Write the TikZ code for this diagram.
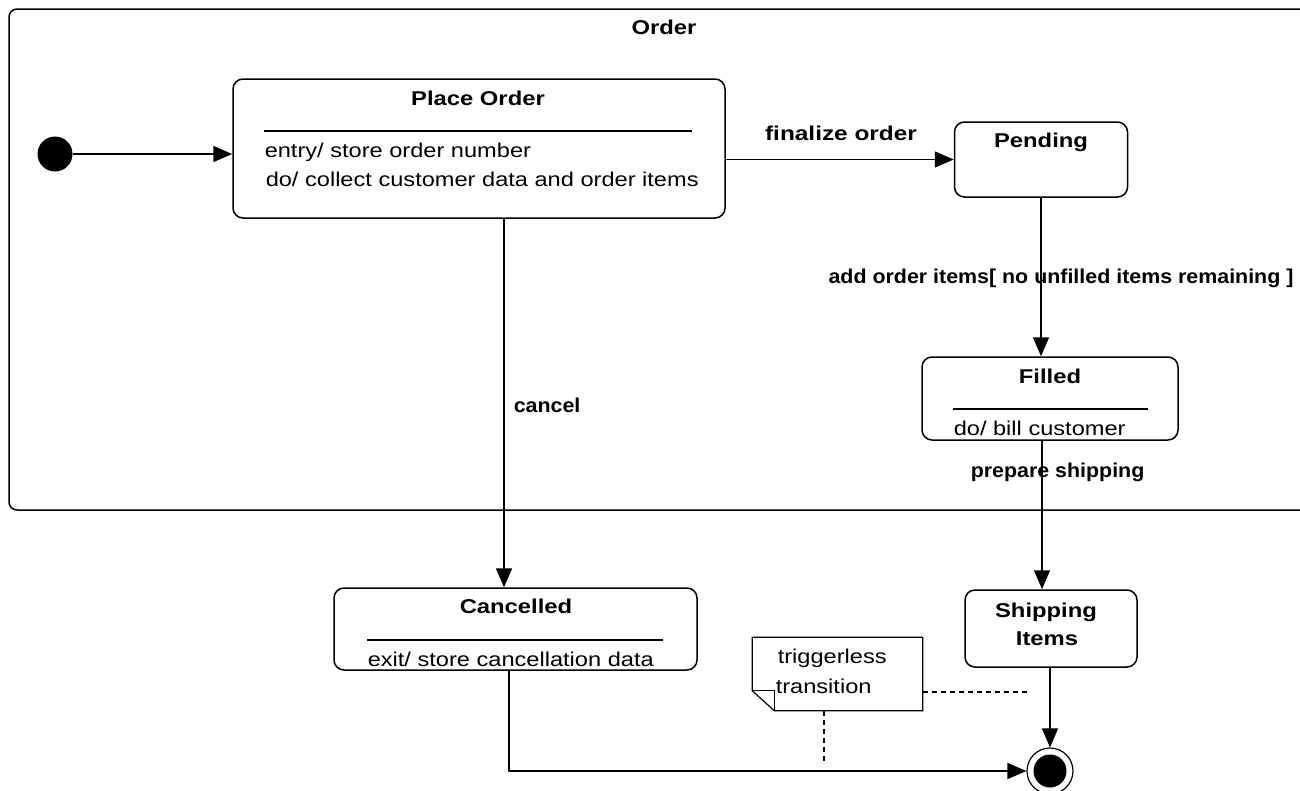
\documentclass[tikz,border=0pt]{standalone}
\usepackage{fontspec}
\setmainfont{Liberation Sans}
\newfontfamily\regfont[FakeStretch=1.18]{Liberation Sans}
\newfontfamily\namefont[FakeStretch=1.19]{Liberation Sans}
\newfontfamily\trfont[FakeStretch=1.07]{Liberation Sans}
\usetikzlibrary{arrows.meta}
\begin{document}
\begin{tikzpicture}[x=1pt,y=-1pt,line width=1.5pt,
  statebox/.style={draw,rounded corners=10pt,inner sep=0pt},
  arr/.style={-{Triangle[length=19pt,width=16pt]}},
  notelink/.style={dashed,dash pattern=on 5pt off 4pt,line width=1.2pt},
  txt/.style={inner sep=0pt,font=\regfont\fontsize{20}{24}\selectfont},
  sname/.style={inner sep=0pt,font=\namefont\bfseries\fontsize{20}{24}\selectfont},
  trlabel/.style={inner sep=0pt,font=\trfont\bfseries\fontsize{20}{24}\selectfont},
  sep/.style={line width=1.5pt}]
\useasboundingbox (0,0) rectangle (1300,790);
\fill[white] (0,0) rectangle (1300,790);

% composite state
\node[draw,rounded corners=8pt,minimum width=1311pt,minimum height=501pt,inner sep=0pt] (order) at (664.5,259.5) {};
\node[sname,anchor=base] (ordertitle) at (664,34) {Order};

% initial and final pseudo-states
\node[circle,fill,minimum size=35pt,inner sep=0pt] (init) at (55,154) {};
\node[circle,draw,line width=1.2pt,minimum size=46pt,inner sep=0pt] (final) at (1050,771) {};
\node[circle,fill,minimum size=33pt,inner sep=0pt] (finaldot) at (final.center) {};

% states
\node[statebox,minimum width=492pt,minimum height=139pt] (place) at (479,148.5) {};
\node[sname,anchor=base] (placename) at (478,105) {Place Order};
\draw[sep] (264,131) -- (692,131);
\node[txt,anchor=base west] (placeentry) at (264,157) {entry/ store order number};
\node[txt,anchor=base west] (placedo) at (265,186) {do/ collect customer data and order items};

\node[statebox,minimum width=173pt,minimum height=75pt] (pending) at (1041,159.5) {};
\node[sname,anchor=base] (pendingname) at (1041,147) {Pending};

\node[statebox,minimum width=256pt,minimum height=83pt] (filled) at (1050,398.5) {};
\node[sname,anchor=base] (filledname) at (1050,383) {Filled};
\draw[sep] (953,409) -- (1148,409);
\node[txt,anchor=base west] (filleddo) at (953,435) {do/ bill customer};

\node[statebox,minimum width=363pt,minimum height=82pt] (cancelled) at (515.5,629) {};
\node[sname,anchor=base] (cancelledname) at (516,613) {Cancelled};
\draw[sep] (367,640) -- (663,640);
\node[txt,anchor=base west] (cancelledexit) at (367,666) {exit/ store cancellation data};

\node[statebox,minimum width=172pt,minimum height=77pt] (shipping) at (1051,628.5) {};
\node[sname,anchor=base] (shipname1) at (1046,617) {Shipping};
\node[sname,anchor=base] (shipname2) at (1047,645) {Items};

% note with folded corner
\node[minimum width=169pt,minimum height=72pt,inner sep=0pt] (note) at (837.5,674) {};
\draw[line width=1.2pt] (note.north west) -- (note.north east) -- (note.south east)
  -- ([xshift=22pt]note.south west) -- ([yshift=20pt]note.south west) -- cycle;
\draw[line width=1.2pt] ([yshift=20pt]note.south west) -- ([xshift=22pt,yshift=20pt]note.south west)
  -- ([xshift=22pt]note.south west);
\node[txt,anchor=base west] (note1) at (777,663) {triggerless};
\node[txt,anchor=base west] (note2) at (775,693) {transition};

% transitions
\draw[arr] (init) -- (init -| place.west);
\draw[arr] (pending.west -| place.east) -- (pending.west);
\node[trlabel,anchor=base] (lblfinal) at (841,140) {\scalebox{1.14}[1]{finalize order}};

\draw[arr] ([xshift=25pt]place.south) -- ([xshift=25pt]place.south |- cancelled.north);
\node[trlabel,anchor=base west] (lblcancel) at (513,412) {cancel};

\draw[arr] (pending.south) -- (pending.south |- filled.north);
\node[trlabel,anchor=base] (lbladd) at (1061,283) {add order items[ no unfilled items remaining ]};

\draw[arr] ([xshift=-8pt]filled.south) -- ([xshift=-8pt]filled.south |- shipping.north);
\node[trlabel,anchor=base west] (lblprep) at (970,477) {prepare shipping};

\draw[arr] (shipping.south -| final.north) -- (final.north);

\coordinate (bend) at (509,771);
\draw[arr] (cancelled.south -| bend) -- (bend) -- (final.west);

% note anchors
\coordinate (dashA) at (1028,692);
\coordinate (dashB) at (824,762);
\draw[notelink] (note.east |- dashA) -- (dashA);
\draw[notelink] (note.south -| dashB) -- (dashB);
\end{tikzpicture}
\end{document}
